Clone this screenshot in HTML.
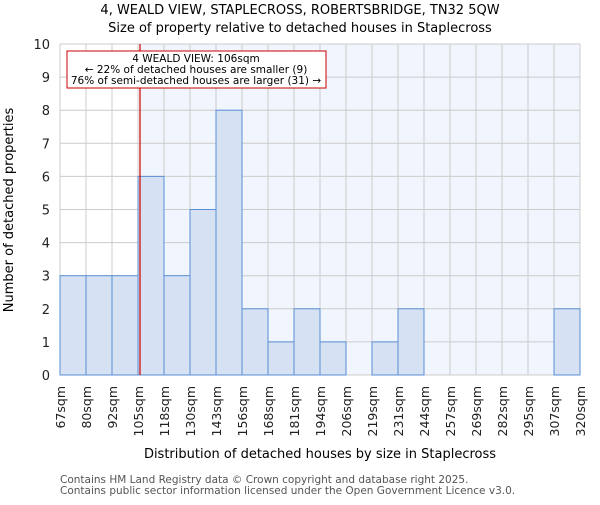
<!DOCTYPE html>
<html><head><meta charset="utf-8"><style>body{margin:0;background:#fff}svg{font-family:"DejaVu Sans","Liberation Sans",sans-serif}</style></head>
<body>
<svg id="c" width="600" height="500" xmlns="http://www.w3.org/2000/svg"></svg>
<script>
const labels=["67sqm","80sqm","92sqm","105sqm","118sqm","130sqm","143sqm","156sqm","168sqm","181sqm","194sqm","206sqm","219sqm","231sqm","244sqm","257sqm","269sqm","282sqm","295sqm","307sqm","320sqm"];
const counts=[3,3,3,6,3,5,8,2,1,2,1,0,1,2,0,0,0,0,0,2];
const yTicks=[0,1,2,3,4,5,6,7,8,9,10];
const edges=[67,80,92,105,118,130,143,156,168,181,194,206,219,231,244,257,269,282,295,307,320];
const propertySize=106;
const L=60,R=580,T=44,B=375,yMax=10;
const NS="http://www.w3.org/2000/svg";
const svg=document.getElementById('c');
const bw=(R-L)/counts.length;
const x=i=>L+i*bw;
const y=v=>B-(B-T)*v/yMax;
function xv(v){for(let i=0;i<edges.length-1;i++){if(v<=edges[i+1])return x(i)+bw*(v-edges[i])/(edges[i+1]-edges[i]);}return R;}
function mk(t,a,p){const e=document.createElementNS(NS,t);for(const k in a)e.setAttribute(k,a[k]);(p||svg).appendChild(e);return e;}
function tx(s,a){const e=mk('text',a);e.textContent=s;return e;}
const lx=xv(propertySize);
let e;
e=mk('rect',{x:L,y:T,width:lx-L,height:B-T,fill:'#fff'});


e=mk('rect',{x:lx,y:T,width:R-lx,height:B-T,fill:'#f1f5fd'});


yTicks.forEach(v=>{
 e=mk('line',{x1:L,x2:R,y1:y(v),y2:y(v),stroke:'#cccccc','stroke-width':1});
 
 
 e=tx(String(v),{x:L-10,y:y(v)+5,'text-anchor':'end','font-size':13,fill:'#222'});
 
 
});
labels.forEach((s,i)=>{
 const xx=x(i);
 e=mk('line',{x1:xx,x2:xx,y1:T,y2:B,stroke:'#cccccc','stroke-width':1});
 
 
 e=tx(s,{x:0,y:0,'text-anchor':'end','font-size':12.5,fill:'#222',transform:`translate(${xx+5},386) rotate(-90)`});
 
 
});
counts.forEach((c,i)=>{
 if(c<=0)return;
 e=mk('rect',{x:x(i),y:y(c),width:bw,height:y(0)-y(c),fill:'#d6e1f3',stroke:'#5b8fd4','stroke-width':1});
 
 
});
e=mk('line',{x1:lx,x2:lx,y1:T,y2:B,stroke:'#cc0000','stroke-width':1.2});


e=mk('rect',{x:67,y:51,width:259,height:37,fill:'#fff',stroke:'#cc0000','stroke-width':1});


[["4 WEALD VIEW: 106sqm",62],["← 22% of detached houses are smaller (9)",73],["76% of semi-detached houses are larger (31) →",84]].forEach(([s,yy])=>{
 e=tx(s,{x:196,y:yy,'text-anchor':'middle','font-size':10.5,fill:'#000'});
 
 
});
e=tx("4, WEALD VIEW, STAPLECROSS, ROBERTSBRIDGE, TN32 5QW",{x:300,y:14,'text-anchor':'middle','font-size':13,fill:'#000'});


e=tx("Size of property relative to detached houses in Staplecross",{x:300,y:32,'text-anchor':'middle','font-size':13,fill:'#000'});


e=tx("Distribution of detached houses by size in Staplecross",{x:320,y:458,'text-anchor':'middle','font-size':13,fill:'#000'});


e=tx("Number of detached properties",{x:0,y:0,'text-anchor':'middle','font-size':13,fill:'#000',transform:'translate(13,210) rotate(-90)'});


e=tx("Contains HM Land Registry data © Crown copyright and database right 2025.",{x:60,y:483,'font-size':10.5,fill:'#555'});


e=tx("Contains public sector information licensed under the Open Government Licence v3.0.",{x:60,y:494,'font-size':10.5,fill:'#555'});


</script>
</body></html>
